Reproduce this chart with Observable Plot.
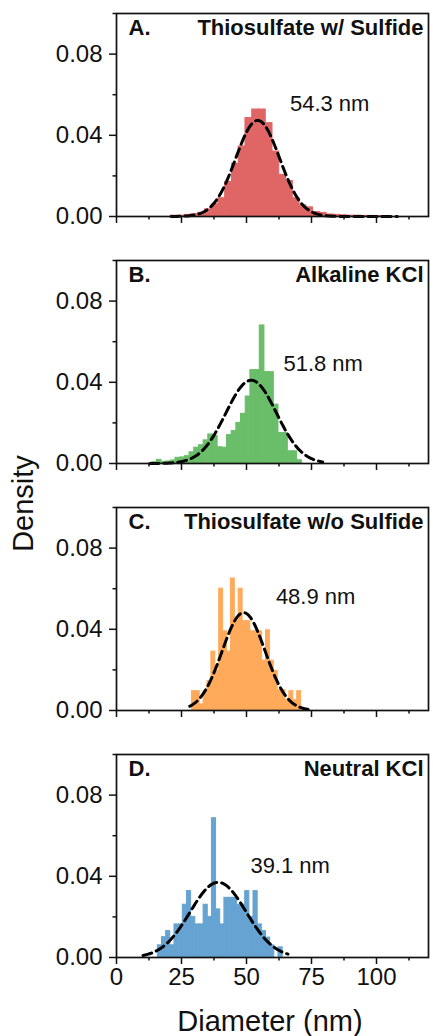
<!DOCTYPE html>
<html>
<head>
<meta charset="utf-8">
<script src="https://cdn.jsdelivr.net/npm/d3@7"></script>
<script src="https://cdn.jsdelivr.net/npm/@observablehq/plot@0.6"></script>
<style>
  html, body { margin: 0; padding: 0; background: #fff; }
  #chart { position: relative; width: 433px; height: 1036px; font-family: "Liberation Sans", Arial, sans-serif; color: #111; }
  #chart svg { position: absolute; left: 0; }
  .axis-title { position: absolute; font-size: 29px; line-height: 29px; height: 29px; white-space: nowrap; text-align: center; }
</style>
</head>
<body>
<div id="chart"></div>
<script>
// Panels: particle diameter histograms (density) with a normal fit per synthesis condition
const panelKeys = ["A", "B", "C", "D"];
const panelTitles = ["Thiosulfate w/ Sulfide", "Alkaline KCl", "Thiosulfate w/o Sulfide", "Neutral KCl"];
const barColors = ["#e06666", "#6abd69", "#ffaa5a", "#66a3d2"];

// Histogram bins: first bin edge and bin width (nm) for each panel
const binStart = [21.0, 13.7, 29.0, 15.9];
const binWidth = [2.6, 1.8, 1.5, 1.6];

// Bin densities
const densityA = [0.0004, 0.0004, 0.0008, 0.0012, 0.0018, 0.0035, 0.0060, 0.0090, 0.0170, 0.0260,
                  0.0345, 0.0485, 0.0527, 0.0527, 0.0460, 0.0320, 0.0205, 0.0175, 0.0090, 0.0055,
                  0.0045, 0.0022, 0.0018, 0.0010, 0.0008, 0.0006, 0.0004, 0.0004, 0.0003, 0.0003,
                  0.0002, 0.0002];
const densityB = [0.0006, 0.0018, 0.0008, 0.0010, 0.0015, 0.0028, 0.0030, 0.0036, 0.0055, 0.0078,
                  0.0090, 0.0114, 0.0143, 0.0135, 0.0080, 0.0078, 0.0140, 0.0160, 0.0200, 0.0245,
                  0.0330, 0.0460, 0.0460, 0.0680, 0.0450, 0.0450, 0.0290, 0.0150, 0.0150, 0.0060,
                  0.0060, 0.0016];
const densityC = [0.0095, 0.0095, 0.0030, 0.0095, 0.0145, 0.0290, 0.0195, 0.0600, 0.0390, 0.0290,
                  0.0650, 0.0440, 0.0600, 0.0440, 0.0440, 0.0390, 0.0390, 0.0390, 0.0245, 0.0395,
                  0.0245, 0.0195, 0.0100, 0.0100, 0.0050, 0.0095, 0.0050, 0.0095];
const densityD = [0.0060, 0.0100, 0.0130, 0.0060, 0.0163, 0.0163, 0.0260, 0.0327, 0.0200, 0.0163,
                  0.0163, 0.0260, 0.0200, 0.0686, 0.0237, 0.0163, 0.0294, 0.0294, 0.0294, 0.0260,
                  0.0260, 0.0327, 0.0200, 0.0327, 0.0163, 0.0130, 0.0098, 0.0060, 0.0000, 0.0050];
const densities = [densityA, densityB, densityC, densityD];

// Normal fit: mean diameter (nm), standard deviation (nm), and the span the fit is drawn over
const meanDiameter = [54.3, 51.8, 48.9, 39.1];
const fitSigma = [8.43, 9.73, 8.28, 10.78];
const fitRange = [[21.0, 108.0], [12.8, 79.5], [28.2, 73.7], [10.2, 66.0]];

// Axes
const xDomain = [0, 120];
const yDomain = [0, 0.1];
const xTicks = [0, 25, 50, 75, 100];
const xMinorTicks = [12.5, 37.5, 62.5, 87.5, 112.5];
const yTicks = [0, 0.04, 0.08];
const yMinorTicks = [0.02, 0.06, 0.1];
const xTitle = "Diameter (nm)";
const yTitle = "Density";

const chart = document.getElementById("chart");
const panelStep = 247;
const ink = "#111";
const font = "'Liberation Sans', Arial, sans-serif";

panelKeys.forEach((key, i) => {
  const last = i === panelKeys.length - 1;
  const color = barColors[i];
  const bins = densities[i].map((d, j) => ({
    x1: binStart[i] + j * binWidth[i],
    x2: binStart[i] + (j + 1) * binWidth[i],
    y: d
  }));
  const mu = meanDiameter[i], s = fitSigma[i];
  const pdf = x => Math.exp(-0.5 * ((x - mu) / s) ** 2) / (s * Math.sqrt(2 * Math.PI));
  const fit = d3.range(fitRange[i][0], fitRange[i][1] + 1e-9, 0.25).map(x => ({x, y: pdf(x)}));
  const meanLabel = [{x: mu + 12.4, y: pdf(mu) + 0.0045, text: `${mu.toFixed(1)} nm`}];

  const svg = Plot.plot({
    width: 433,
    height: last ? 255 : panelStep,
    marginLeft: 116,
    marginRight: 5,
    marginTop: 12,
    marginBottom: last ? 40 : 32,
    x: {domain: xDomain},
    y: {domain: yDomain},
    style: {fontFamily: font, fontSize: "24px", color: ink, background: "transparent", overflow: "visible"},
    marks: [
      // bars share edges; a thin same-colour stroke closes anti-aliasing seams
      Plot.rectY(bins, {x1: "x1", x2: "x2", y: "y", fill: color, stroke: color, strokeWidth: 1}),
      Plot.line(fit, {x: "x", y: "y", stroke: "#000", strokeWidth: 3, strokeDasharray: "9,5"}),
      Plot.text(meanLabel, {x: "x", y: "y", text: "text", textAnchor: "start", lineAnchor: "bottom",
                            fontSize: 22, fill: ink}),
      Plot.text([key + "."], {frameAnchor: "top-left", text: d => d, dx: 12, dy: 6, lineAnchor: "top",
                              textAnchor: "start", fontSize: 22, fontWeight: "bold", fill: ink}),
      Plot.text([panelTitles[i]], {frameAnchor: "top-right", text: d => d, dx: -5, dy: 6, lineAnchor: "top",
                                   textAnchor: "end", fontSize: 22, fontWeight: "bold", fill: ink}),
      Plot.axisX({ticks: xTicks, tickSize: 7, tickPadding: 3, strokeWidth: 1.5, label: null,
                  tickFormat: last ? d => String(d) : () => "", fontSize: 24}),
      Plot.axisX({ticks: xMinorTicks, tickSize: 3.5, strokeWidth: 1.5, label: null, tickFormat: () => ""}),
      Plot.axisY({ticks: yTicks, tickSize: 7, tickPadding: 7, strokeWidth: 1.5, label: null,
                  tickFormat: d3.format(".2f"), fontSize: 24}),
      Plot.axisY({ticks: yMinorTicks, tickSize: 3.5, strokeWidth: 1.5, label: null, tickFormat: () => ""}),
      Plot.frame({stroke: ink, strokeWidth: 1.7})
    ]
  });
  svg.style.top = (1 + i * panelStep) + "px";
  chart.appendChild(svg);
});

// Shared axis titles
const xt = document.createElement("div");
xt.className = "axis-title";
xt.textContent = xTitle;
Object.assign(xt.style, {left: (270 - 150) + "px", width: "300px", top: "1007px"});
chart.appendChild(xt);

const yt = document.createElement("div");
yt.className = "axis-title";
yt.textContent = yTitle;
Object.assign(yt.style, {left: (23 - 100) + "px", width: "200px", top: (503 - 14.5) + "px", transform: "rotate(-90deg)"});
chart.appendChild(yt);
</script>
</body>
</html>
